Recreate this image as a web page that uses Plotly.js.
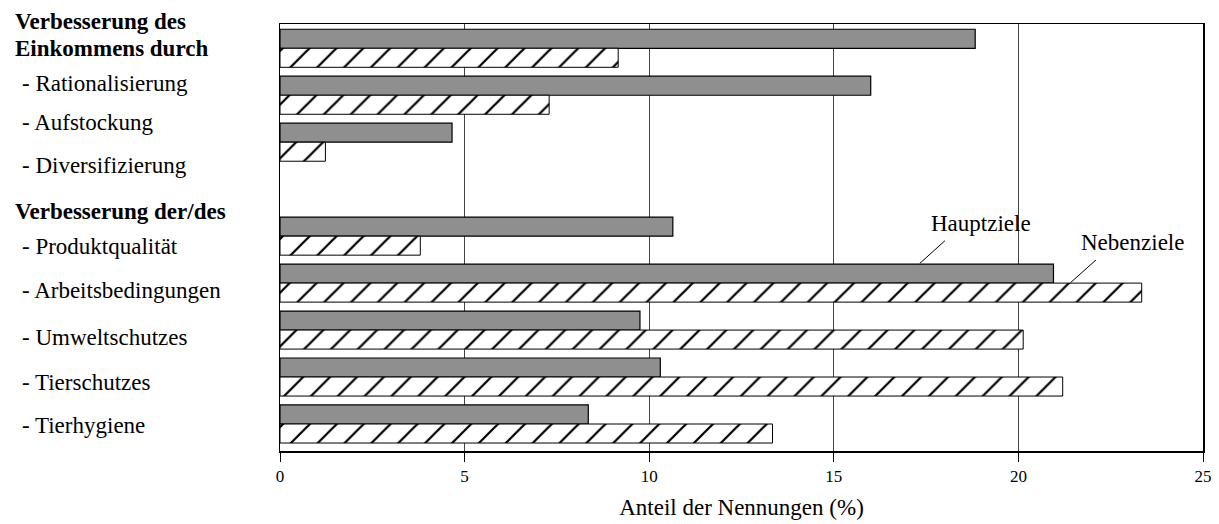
<!DOCTYPE html>
<html><head><meta charset="utf-8">
<script src="https://cdn.plot.ly/plotly-3.0.1.min.js"></script>
<style>html,body{margin:0;padding:0;background:#fff}</style>
</head><body><div id="chart" style="width:1219px;height:524px"></div>
<script>
// bar slots (top to bottom); the empty slot is the "Verbesserung der/des" header gap
const categories = ['Rationalisierung','Aufstockung','Diversifizierung','','Produktqualität','Arbeitsbedingungen','Umweltschutzes','Tierschutzes','Tierhygiene'];
const hauptziele = [18.83, 16.0, 4.66, null, 10.64, 20.95, 9.75, 10.3, 8.35];
const nebenziele = [9.16, 7.29, 1.23, null, 3.8, 23.34, 20.13, 21.2, 13.34];
const seriesNames = ['Hauptziele','Nebenziele'];
const rowLabels = ['Verbesserung des','Einkommens durch','- Rationalisierung','- Aufstockung','- Diversifizierung','Verbesserung der/des','- Produktqualität','- Arbeitsbedingungen','- Umweltschutzes','- Tierschutzes','- Tierhygiene'];
const rowBold = [true,true,false,false,false,true,false,false,false,false,false];
const xTickVals = [0,5,10,15,20,25];
const xTitle = 'Anteil der Nennungen (%)';

// layout helpers (positions only)
const labelY = [1.0063,0.9419,0.8611,0.7693,0.6679,0.5604,0.4778,0.3752,0.2658,0.1604,0.0593];
const FONT = '"Liberation Serif","Times New Roman",serif';
const slots = categories.map((c,i)=>i);
const BW = 0.405;

const traces = [
  {type:'bar', orientation:'h', name:seriesNames[0], y:slots, x:hauptziele,
   width:BW, offset:-BW,
   marker:{color:'#8f8f8f', line:{color:'#000', width:1.2}}, hoverinfo:'x'},
  {type:'bar', orientation:'h', name:seriesNames[1], y:slots, x:nebenziele,
   width:BW, offset:0,
   marker:{color:'#fff', line:{color:'#000', width:1},
     pattern:{shape:'/', fgcolor:'#000', bgcolor:'#fff', size:19, solidity:0.12, fillmode:'replace'}},
   hoverinfo:'x'}
];

const annotations = rowLabels.map((t,i)=>({
  xref:'paper', yref:'paper', x: rowBold[i] ? -0.2895 : -0.2822, y: labelY[i],
  xanchor:'left', yanchor:'middle', showarrow:false,
  text: rowBold[i] ? '<b>'+t+'</b>' : t,
  font:{family:FONT, size:23, color:'#000'}
}));
annotations.push(
  {xref:'x', yref:'y', x:19.0, y:3.727, text:seriesNames[0], showarrow:false,
   font:{family:FONT, size:23, color:'#000'}},
  {xref:'x', yref:'y', x:23.1, y:4.14, text:seriesNames[1], showarrow:false,
   font:{family:FONT, size:23, color:'#000'}}
);
const shapes = [
  {type:'line', xref:'x', yref:'y', x0:17.33, y0:4.579, x1:18.01, y1:4.098, line:{color:'#000', width:1}},
  {type:'line', xref:'x', yref:'y', x0:21.41, y0:4.992, x1:22.10, y1:4.509, line:{color:'#000', width:1}}
];

const layout = {
  width:1219, height:524,
  margin:{l:280, r:16, t:24, b:73, pad:0},
  paper_bgcolor:'#fff', plot_bgcolor:'#fff',
  showlegend:false, barmode:'overlay',
  font:{family:FONT, color:'#000'},
  xaxis:{range:[0,25], tickvals:xTickVals, ticktext:xTickVals.map(String),
    showgrid:true, gridcolor:'#444', gridwidth:1, zeroline:false,
    showline:true, linecolor:'#000', linewidth:1.5, mirror:true,
    ticks:'outside', ticklen:9, tickcolor:'#000', tickwidth:1,
    tickfont:{family:FONT, size:17, color:'#000'},
    title:{text:xTitle, font:{family:FONT, size:23, color:'#000'}, standoff:14}},
  yaxis:{range:[8.575,-0.517], showticklabels:false, showgrid:false, zeroline:false,
    showline:true, linecolor:'#000', linewidth:1.5, mirror:true, ticks:''},
  annotations, shapes
};
Plotly.newPlot('chart', traces, layout, {displayModeBar:false, staticPlot:true});
</script></body></html>
